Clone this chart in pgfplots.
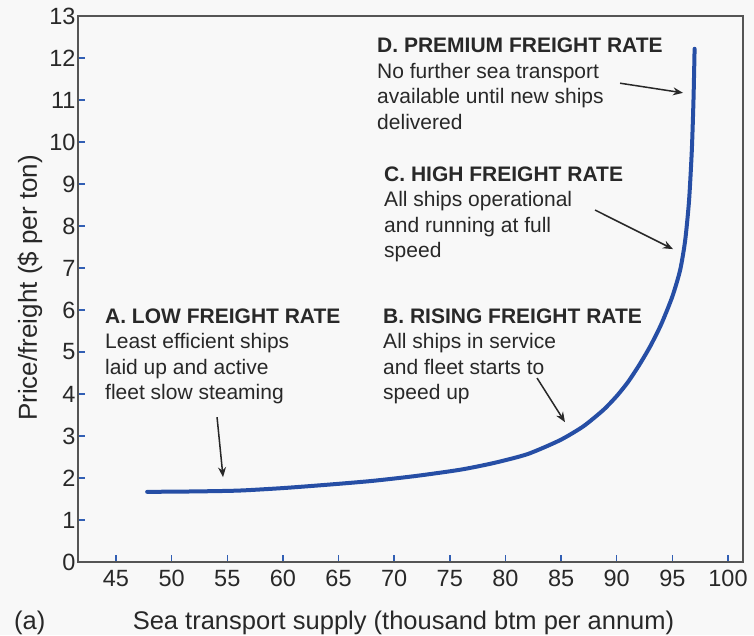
\documentclass[border=0pt]{standalone}
\usepackage{fontspec}
\setmainfont{Liberation Sans}
\usepackage{pgfplots}
\pgfplotsset{compat=1.18}
\usetikzlibrary{arrows.meta}

\definecolor{bgcol}{RGB}{248,248,248}
\definecolor{curveblue}{RGB}{38,78,165}
\definecolor{tickblue}{RGB}{50,95,180}
\definecolor{framegray}{RGB}{85,85,85}
\definecolor{txtgray}{RGB}{40,40,40}

% freight rate curve: supply vs. price
\pgfplotstableread{
x      y
47.8   1.67
52     1.68
56     1.70
60     1.76
64     1.84
68     1.93
72     2.05
76     2.20
79     2.36
82     2.57
84.9   2.90
87     3.23
88.8   3.62
90     3.95
91     4.28
92     4.68
93     5.13
94     5.66
95     6.32
95.7   6.95
96.15  7.65
96.5   8.60
96.75  9.80
96.9   11.00
97.0   12.22
}\supplycurve

\begin{document}
\begin{tikzpicture}
\fill[bgcol] (-78pt,-73pt) rectangle (676pt,562pt);
\begin{axis}[
  at={(0,0)}, anchor=south west,
  scale only axis,
  width=665pt, height=546pt,
  xmin=41.585, xmax=101.35,
  ymin=0, ymax=13,
  xtick={45,50,...,100},
  ytick={0,1,...,13},
  tick pos=left,
  tick align=inside,
  major tick length=7pt,
  major tick style={draw=tickblue, line width=1.4pt},
  axis line style={draw=framegray, line width=1.3pt},
  /pgf/number format/assume math mode=true,
  ticklabel style={font=\fontsize{23.5}{26}\selectfont, text=txtgray},
  xticklabel style={yshift=-5pt},
  yticklabel style={xshift=1pt},
  xlabel={Sea transport supply (thousand btm per annum)},
  ylabel={Price/freight (\$ per ton)},
  xlabel style={at={(axis description cs:0.4895,0)}, anchor=base, yshift=-67pt,
    font=\fontsize{25.5}{28}\selectfont, text=txtgray},
  ylabel style={at={(axis description cs:-0.0617,0.502)}, anchor=base,
    font=\fontsize{26}{28}\selectfont, text=txtgray},
  clip=false,
]
\addplot[curveblue, line width=4pt, smooth, tension=0.4, line cap=round] table[x=x, y=y] {\supplycurve};

% annotations
\begin{scope}[every node/.style={anchor=base west, inner sep=0pt, text=txtgray,
    font=\fontsize{21}{25}\selectfont}]
  \node[font=\fontsize{21}{25}\selectfont\bfseries] at (axis cs:44.01,5.69) {A. LOW FREIGHT RATE};
  \node at (axis cs:44.01,5.083) {Least efficient ships};
  \node at (axis cs:44.01,4.476) {laid up and active};
  \node at (axis cs:44.01,3.869) {fleet slow steaming};

  \node[font=\fontsize{21}{25}\selectfont\bfseries] at (axis cs:69.0,5.69) {B. RISING FREIGHT RATE};
  \node at (axis cs:69.0,5.083) {All ships in service};
  \node at (axis cs:69.0,4.476) {and fleet starts to};
  \node at (axis cs:69.0,3.869) {speed up};

  \node[font=\fontsize{21}{25}\selectfont\bfseries] at (axis cs:69.09,9.07) {C. HIGH FREIGHT RATE};
  \node at (axis cs:69.09,8.463) {All ships operational};
  \node at (axis cs:69.09,7.856) {and running at full};
  \node at (axis cs:69.09,7.249) {speed};

  \node[font=\fontsize{21}{25}\selectfont\bfseries] at (axis cs:68.46,12.12) {D. PREMIUM FREIGHT RATE};
  \node at (axis cs:68.46,11.513) {No further sea transport};
  \node at (axis cs:68.46,10.906) {available until new ships};
  \node at (axis cs:68.46,10.299) {delivered};
\end{scope}

\begin{scope}[draw=txtgray, line width=1.5pt, -{Stealth[length=10pt,width=8pt]}]
  \draw (axis cs:54.08,3.45) -- (axis cs:54.62,2.02);
  \draw (axis cs:82.84,4.38) -- (axis cs:85.35,3.33);
  \draw (axis cs:88.05,8.38) -- (axis cs:95.06,7.45);
  \draw (axis cs:90.30,11.40) -- (axis cs:95.96,11.17);
\end{scope}
\end{axis}
\node[anchor=base west, inner sep=0pt, text=txtgray, font=\fontsize{25.5}{28}\selectfont]
  at (-64pt,-67pt) {(a)};
\pgfresetboundingbox
\path[use as bounding box] (-78pt,-73pt) rectangle (676pt,562pt);
\end{tikzpicture}
\end{document}
